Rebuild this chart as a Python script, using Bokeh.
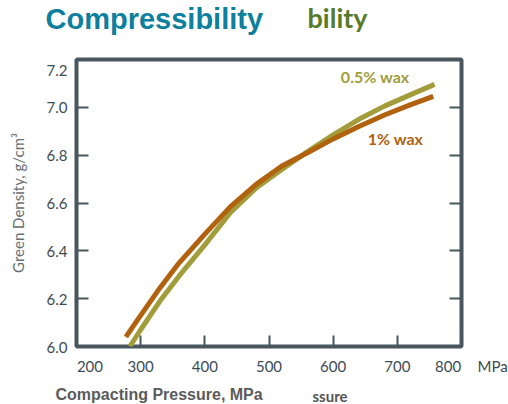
from bokeh.plotting import figure
from bokeh.models import Label, LinearAxis, FixedTicker, PrintfTickFormatter, Title
from bokeh.embed import file_html
from bokeh.resources import INLINE

# Compacting pressure (MPa) and green density (g/cm3)
pressure_05 = [283, 300, 330, 360, 400, 440, 480, 520, 560, 600, 640, 680, 720, 758]
density_05 = [6.00, 6.07, 6.19, 6.295, 6.425, 6.56, 6.663, 6.74, 6.815, 6.885, 6.95, 7.005, 7.052, 7.096]

pressure_1 = [277, 300, 330, 360, 400, 440, 480, 520, 560, 600, 640, 680, 720, 756]
density_1 = [6.04, 6.13, 6.245, 6.35, 6.47, 6.585, 6.678, 6.755, 6.81, 6.868, 6.92, 6.968, 7.01, 7.046]

x_ticks = [200, 300, 400, 500, 600, 700, 800]
y_ticks = [6.0, 6.2, 6.4, 6.6, 6.8, 7.0, 7.2]

series_names = ["0.5% wax", "1% wax"]

FRAME = "#48565e"
TICKTXT = "#3d4b53"
OLIVE = "#a09d3a"
BROWN = "#b0620f"
NB = "\u00a0"

p = figure(frame_width=385, frame_height=287,
           min_border_left=76, min_border_right=47,
           min_border_top=59, min_border_bottom=58,
           x_range=(200, 800), y_range=(6.0, 7.2),
           output_backend="svg", toolbar_location=None)

p.title.visible = False
p.xgrid.visible = False
p.ygrid.visible = False
p.outline_line_color = FRAME
p.outline_line_width = 4
p.background_fill_color = "white"
p.border_fill_color = "white"

# bottom axis
xa = p.xaxis[0]
xa.ticker = FixedTicker(ticks=x_ticks)
xa.major_label_overrides = {x_ticks[0]: NB * 7 + str(x_ticks[0]),
                            x_ticks[-1]: str(x_ticks[-1]) + NB * 7}
xa.axis_line_color = None
xa.major_tick_in = 11
xa.major_tick_out = 0
xa.minor_tick_in = 0
xa.minor_tick_out = 0
xa.major_tick_line_color = FRAME
xa.major_tick_line_width = 2
xa.minor_tick_line_color = None
xa.major_label_text_font = "Lato"
xa.major_label_text_font_size = "15px"
xa.major_label_text_color = TICKTXT
xa.major_label_standoff = 10

# left axis
ya = p.yaxis[0]
ya.ticker = FixedTicker(ticks=y_ticks)
ya.formatter = PrintfTickFormatter(format="%.1f")
ya.major_label_overrides = {y_ticks[-1]: "\n%.1f" % y_ticks[-1]}
ya.axis_line_color = None
ya.major_tick_in = 12
ya.major_tick_out = 0
ya.minor_tick_in = 0
ya.minor_tick_out = 0
ya.major_tick_line_color = FRAME
ya.major_tick_line_width = 2
ya.minor_tick_line_color = None
ya.major_label_text_font = "Lato"
ya.major_label_text_font_size = "15px"
ya.major_label_text_color = TICKTXT
ya.major_label_standoff = 9
ya.axis_label = "Green Density, g/cm³"
ya.axis_label_text_font = "Lato"
ya.axis_label_text_font_style = "normal"
ya.axis_label_text_font_size = "15px"
ya.axis_label_text_color = "#696e71"
ya.axis_label_standoff = 17

# right axis: ticks only
ra = LinearAxis(ticker=FixedTicker(ticks=y_ticks), axis_line_color=None,
                major_tick_in=12, major_tick_out=0,
                minor_tick_in=0, minor_tick_out=0,
                major_tick_line_color=FRAME, major_tick_line_width=2,
                minor_tick_line_color=None, major_label_text_color=None,
                major_label_text_font_size="1px", major_label_standoff=0)
p.add_layout(ra, "right")

# curves
p.line(pressure_05, density_05, line_color=OLIVE, line_width=5, line_cap="butt")
p.line(pressure_1, density_1, line_color=BROWN, line_width=5, line_cap="butt")

# series labels (inside the frame)
p.add_layout(Label(x=612, y=7.129, text=series_names[0], text_font="Lato",
                   text_font_style="bold", text_font_size="16px",
                   text_color=OLIVE, text_baseline="middle"))
p.add_layout(Label(x=654, y=6.871, text=series_names[1], text_font="Lato",
                   text_font_style="bold", text_font_size="16px",
                   text_color=BROWN, text_baseline="middle"))

# texts outside the frame, held in side panels so they are not clipped
p.add_layout(Label(x=151.7, y=7.369, text="Compressibility",
                   text_font="Liberation Sans", text_font_style="bold",
                   text_font_size="29px", text_color="#0e7f9c",
                   text_baseline="alphabetic"), "above")
p.add_layout(Title(text="bility", align="left", offset=231,
                   vertical_align="bottom", standoff=-13,
                   text_font="Lato", text_font_style="bold",
                   text_font_size="27px", text_color="#587a2b"), "above")

p.add_layout(Label(x=167.3, y=5.799, text="Compacting Pressure, MPa",
                   text_font="Liberation Sans", text_font_style="bold",
                   text_font_size="16px", text_color="#5b5b5b",
                   text_baseline="alphabetic"), "below")
p.add_layout(Title(text="ssure", align="left", offset=236,
                   vertical_align="top", standoff=-16,
                   text_font="Lato", text_font_style="bold",
                   text_font_size="15px", text_color="#555555"), "below")

p.add_layout(Label(x=824.9, y=5.9165, text="MPa", text_font="Lato",
                   text_font_size="15px", text_color=TICKTXT,
                   text_baseline="alphabetic"), "right")

open("out.html", "w").write(file_html(p, INLINE))
